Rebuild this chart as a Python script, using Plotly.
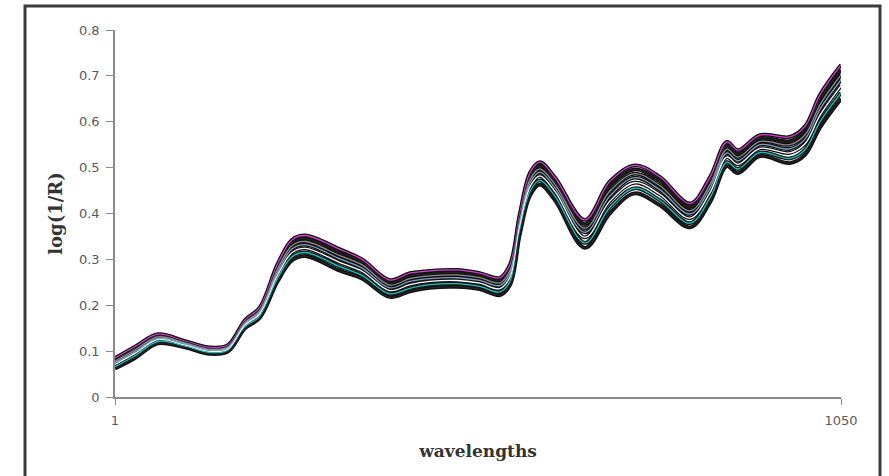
import plotly.graph_objects as go

# wavelength index positions (1..1050)
wavelengths = [1, 30, 63, 102, 138, 164, 189, 210, 236, 257, 276, 326, 358, 398, 427, 456, 495,
               528, 557, 572, 586, 601, 615, 637, 680, 716, 752, 788, 832, 861, 885, 901, 933,
               976, 998, 1020, 1050]

spec_magenta = [0.085, 0.110, 0.137, 0.122, 0.108, 0.113, 0.168, 0.195, 0.290, 0.343, 0.352, 0.322,
                0.300, 0.255, 0.270, 0.275, 0.277, 0.270, 0.260, 0.290, 0.400, 0.490, 0.512, 0.478,
                0.386, 0.470, 0.505, 0.480, 0.422, 0.480, 0.556, 0.538, 0.571, 0.567, 0.590, 0.660, 0.724]
spec_black1 = [0.082, 0.106, 0.134, 0.120, 0.106, 0.111, 0.165, 0.191, 0.284, 0.336, 0.345, 0.315,
               0.294, 0.249, 0.264, 0.269, 0.271, 0.265, 0.254, 0.283, 0.393, 0.482, 0.505, 0.470,
               0.377, 0.460, 0.496, 0.471, 0.414, 0.472, 0.548, 0.530, 0.564, 0.558, 0.581, 0.650, 0.713]
spec_gray = [0.078, 0.103, 0.131, 0.118, 0.104, 0.109, 0.163, 0.188, 0.279, 0.330, 0.339, 0.308,
             0.288, 0.244, 0.258, 0.264, 0.266, 0.260, 0.249, 0.277, 0.386, 0.475, 0.497, 0.463,
             0.368, 0.449, 0.487, 0.461, 0.406, 0.464, 0.540, 0.523, 0.557, 0.550, 0.571, 0.638, 0.702]
spec_blue = [0.075, 0.099, 0.128, 0.116, 0.102, 0.107, 0.160, 0.185, 0.273, 0.323, 0.332, 0.301,
             0.281, 0.238, 0.252, 0.258, 0.260, 0.254, 0.243, 0.270, 0.380, 0.467, 0.490, 0.455,
             0.359, 0.438, 0.478, 0.452, 0.399, 0.456, 0.532, 0.515, 0.550, 0.541, 0.562, 0.628, 0.691]
spec_white = [0.071, 0.095, 0.125, 0.113, 0.099, 0.104, 0.157, 0.181, 0.266, 0.315, 0.324, 0.293,
              0.274, 0.232, 0.245, 0.252, 0.254, 0.248, 0.236, 0.262, 0.372, 0.459, 0.482, 0.447,
              0.348, 0.427, 0.467, 0.442, 0.390, 0.446, 0.523, 0.507, 0.542, 0.532, 0.552, 0.615, 0.678]
spec_cyan = [0.066, 0.090, 0.121, 0.111, 0.097, 0.101, 0.153, 0.176, 0.259, 0.306, 0.315, 0.284,
             0.265, 0.225, 0.237, 0.245, 0.247, 0.241, 0.229, 0.253, 0.363, 0.449, 0.472, 0.437,
             0.336, 0.413, 0.455, 0.429, 0.379, 0.435, 0.512, 0.497, 0.533, 0.520, 0.539, 0.601, 0.663]
spec_black2 = [0.062, 0.085, 0.117, 0.108, 0.094, 0.099, 0.150, 0.172, 0.252, 0.298, 0.307, 0.275,
               0.258, 0.218, 0.230, 0.238, 0.240, 0.235, 0.222, 0.245, 0.355, 0.440, 0.463, 0.428,
               0.325, 0.400, 0.444, 0.418, 0.370, 0.425, 0.503, 0.488, 0.525, 0.510, 0.528, 0.588, 0.650]

series = [
    ("spectrum 1", spec_magenta, "#d63cd6"),
    ("spectrum 2", spec_black1, "#222222"),
    ("spectrum 3", spec_gray, "#8c8c8c"),
    ("spectrum 4", spec_blue, "#7f9fc4"),
    ("spectrum 5", spec_white, "#ffffff"),
    ("spectrum 6", spec_cyan, "#1cc4c8"),
    ("spectrum 7", spec_black2, "#222222"),
]

y_ticks = [0, 0.1, 0.2, 0.3, 0.4, 0.5, 0.6, 0.7, 0.8]
x_ticks = [1, 1050]
x_tick_labels = ["1", "1050"]

fig = go.Figure()
# dark outline under every spectrum
for name, vals, col in series:
    fig.add_trace(go.Scatter(x=wavelengths, y=vals, mode="lines", name=name + " outline",
                             line=dict(color="#111111", width=3.8, shape="spline", smoothing=1.0),
                             showlegend=False, hoverinfo="skip"))
for name, vals, col in series:
    fig.add_trace(go.Scatter(x=wavelengths, y=vals, mode="lines", name=name,
                             line=dict(color=col, width=1.3, shape="spline", smoothing=1.0),
                             showlegend=False))

L, R, T, B = 115, 48, 30, 79
W, H = 889, 476
pw, ph = W - L - R, H - T - B

def px_to_paper_x(px):
    return (px - L) / pw

def px_to_paper_y(py):
    return (H - B - py) / ph

fig.add_shape(type="rect", xref="paper", yref="paper",
              x0=px_to_paper_x(25), x1=px_to_paper_x(880),
              y0=px_to_paper_y(520), y1=px_to_paper_y(6),
              line=dict(color="#3a3a3a", width=3), fillcolor="rgba(0,0,0,0)", layer="below")

axis_font = dict(family="DejaVu Sans, Arial, sans-serif", size=13, color="#5a5a5a")
xtitle_font = dict(family="DejaVu Serif, Liberation Serif, serif", size=17, color="#333333")
ytitle_font = dict(family="DejaVu Serif, Liberation Serif, serif", size=18, color="#333333")

fig.update_layout(
    width=W, height=H,
    margin=dict(l=L, r=R, t=T, b=B),
    paper_bgcolor="white", plot_bgcolor="white",
    showlegend=False,
    xaxis=dict(range=[1, 1050], tickvals=x_ticks, ticktext=x_tick_labels,
               showgrid=False, zeroline=False, showline=True, linecolor="#8a8a8a", linewidth=1.5,
               ticks="outside", ticklen=6, tickcolor="#8a8a8a", tickfont=axis_font,
               ticklabelstandoff=5,
               title=dict(text="<b>wavelengths</b>", font=xtitle_font, standoff=18)),
    yaxis=dict(range=[0, 0.8], tickvals=y_ticks,
               showgrid=False, zeroline=False, showline=True, linecolor="#8a8a8a", linewidth=1.5,
               ticks="outside", ticklen=7, tickcolor="#8a8a8a", tickfont=axis_font,
               ticklabelstandoff=4,
               title=dict(text="<b>log(1/R)</b>", font=ytitle_font, standoff=12)),
)

# remove the page's default body margin so the figure sits at the window origin
fig.write_html("out.html", config={"displayModeBar": False},
               post_script="document.body.style.margin='0px';")
